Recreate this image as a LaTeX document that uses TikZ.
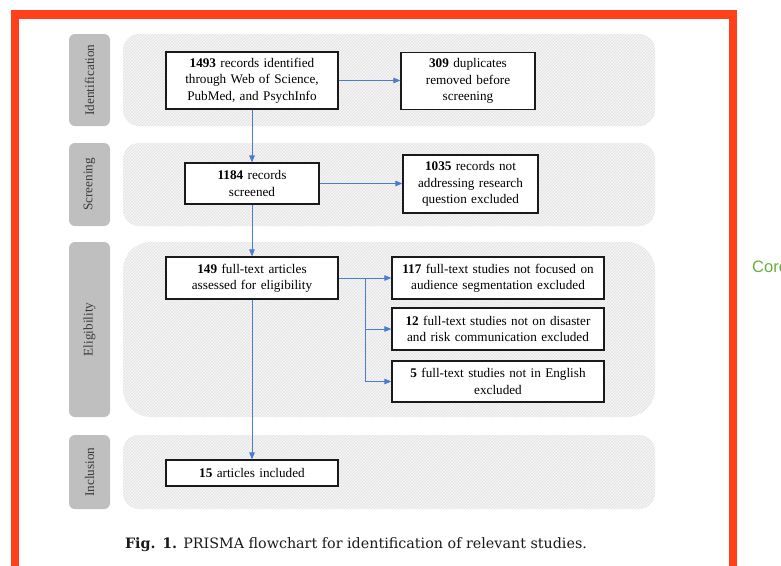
\documentclass[tikz,border=0pt]{standalone}
\usepackage{fontspec}
\setmainfont{Liberation Serif}
\newfontfamily\capfont{DejaVu Serif}
\newfontfamily\corefont{Liberation Sans}
\usepackage{tikz}
\usetikzlibrary{arrows.meta,calc,positioning,patterns}
\definecolor{Ink}{HTML}{1A1A1A}
\definecolor{FrameRed}{HTML}{FF4019}
\definecolor{FlowBlue}{HTML}{4A7CCF}
\definecolor{PhaseGray}{HTML}{BFBFBF}
\definecolor{PhaseText}{HTML}{3A3A3A}
\definecolor{BandFill}{HTML}{F4F4F4}
\definecolor{BandHatch}{HTML}{E0E0E0}
\definecolor{CoreGreen}{HTML}{6AAE3E}
\newcommand{\recfont}{\fontsize{13.2}{16.3}\selectfont}

\begin{document}
\begin{tikzpicture}[
    x=1pt, y=-1pt,
    recbox/.style={
      draw=Ink,
      line width=1.2pt,
      fill=white,
      align=center,
      font=\recfont,
      inner sep=0pt
    },
    phaselabel/.style={
      fill=PhaseGray,
      rounded corners=6pt,
      rotate=90,
      minimum height=41pt,
      inner sep=0pt,
      text=PhaseText,
      font=\recfont
    },
    band/.style={
      fill=BandFill,
      postaction={pattern=north east lines, pattern color=BandHatch}
    },
    flow/.style={
      -{Triangle[length=7pt,width=5.5pt]},
      draw=FlowBlue,
      line width=0.9pt
    }
  ]
  \useasboundingbox (0,0) rectangle (781,565);
  \fill[white] (0,0) rectangle (781,565);

  % hatched phase bands
  \path[band, rounded corners=16pt] (123,34) rectangle (655,126);
  \path[band, rounded corners=16pt] (123,143) rectangle (655,226);
  \path[band, rounded corners=28pt] (123,242) rectangle (655,417);
  \path[band, rounded corners=16pt] (123,435) rectangle (655,509);

  % phase labels
  \node[phaselabel, minimum width=92pt] (identlab) at (89.5,80) {Identification};
  \node[phaselabel, minimum width=83pt] (screenlab) at (89.5,184.5) {Screening};
  \node[phaselabel, minimum width=175pt] (eliglab) at (89.5,329.5) {Eligibility};
  \node[phaselabel, minimum width=74pt] (incllab) at (89.5,472) {Inclusion};

  % record boxes
  \node[recbox, minimum width=172pt, minimum height=57pt, text width=165pt] (found) at (252,80.5)
    {\textbf{1493} records identified\\through Web of Science,\\PubMed, and PsychInfo};
  \node[recbox, minimum width=134pt, minimum height=57pt, text width=128pt] (dupes) at (468,81)
    {\textbf{309} duplicates\\removed before\\screening};
  \node[recbox, minimum width=134pt, minimum height=41pt, text width=128pt] (screened) at (252,183.5)
    {\textbf{1184} records\\screened};
  \node[recbox, minimum width=135pt, minimum height=58pt, text width=130pt] (offtopic) at (470.5,184)
    {\textbf{1035} records not\\addressing research\\question excluded};
  \node[recbox, minimum width=172pt, minimum height=42pt, text width=165pt] (fulltext) at (252,278)
    {\textbf{149} full-text articles\\assessed for eligibility};
  \node[recbox, minimum width=212pt, minimum height=42pt, text width=206pt] (nosegment) at (498,278)
    {\textbf{117} full-text studies not focused on\\audience segmentation excluded};
  \node[recbox, minimum width=212pt, minimum height=42pt, text width=206pt] (norisk) at (498,329)
    {\textbf{12} full-text studies not on disaster\\and risk communication excluded};
  \node[recbox, minimum width=212pt, minimum height=41pt, text width=206pt] (noenglish) at (498,381.5)
    {\textbf{5} full-text studies not in English\\excluded};
  \node[recbox, minimum width=172pt, minimum height=26pt, text width=165pt] (included) at (252,473)
    {\textbf{15} articles included};

  % connectors
  \coordinate (split) at (365.7,278);
  \draw[flow] (found.east) -- (found.east -| dupes.west);
  \draw[flow] (screened.east) -- (screened.east -| offtopic.west);
  \draw[flow] (found) -- (screened);
  \draw[flow] (screened) -- (fulltext);
  \draw[flow] (fulltext) -- (included);
  \draw[flow] (fulltext.east) -- (nosegment.west);
  \draw[flow] (split) |- (norisk.west);
  \draw[flow] (split) |- (noenglish.west);

  % caption
  \node[font=\capfont\fontsize{14.3}{17}\selectfont, text=Ink] (caption) at (356,545)
    {\textbf{Fig. 1.} PRISMA flowchart for identification of relevant studies.};

  % page frame and side text
  \draw[FrameRed, line width=8.5pt] (15,600) -- (15,14.5) -- (732.8,14.5) -- (732.8,600);
  \node[anchor=west, inner sep=0pt, text=CoreGreen, font=\corefont\fontsize{16.5}{19}\selectfont] (core) at (752,267) {Core};
\end{tikzpicture}
\end{document}
